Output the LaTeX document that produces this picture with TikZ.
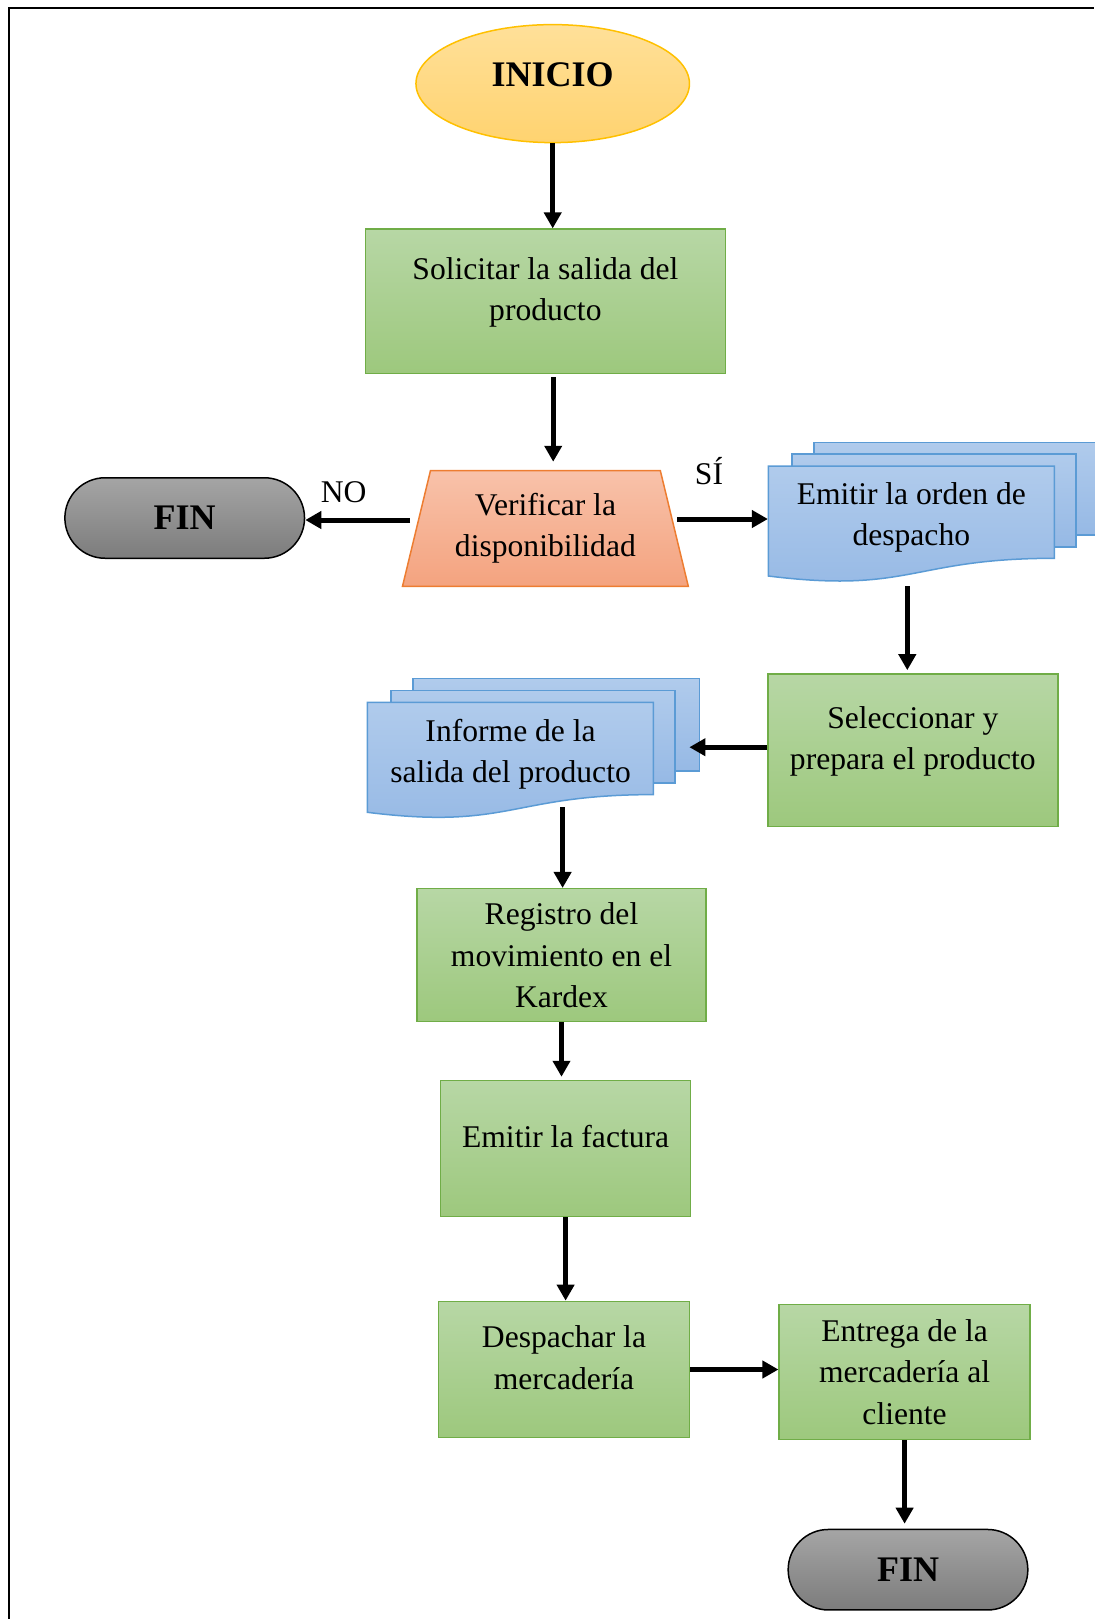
\documentclass[tikz,border=0pt]{standalone}
\usepackage{fontspec}
\setmainfont{Liberation Serif}
\usetikzlibrary{shapes.geometric,shapes.misc,arrows.meta}

\definecolor{yelT}{RGB}{255,224,153}
\definecolor{yelB}{RGB}{255,211,112}
\definecolor{yelL}{RGB}{255,192,0}
\definecolor{grnT}{RGB}{183,215,165}
\definecolor{grnB}{RGB}{157,200,125}
\definecolor{grnL}{RGB}{112,173,71}
\definecolor{salT}{RGB}{248,194,170}
\definecolor{salB}{RGB}{244,163,127}
\definecolor{salL}{RGB}{237,125,49}
\definecolor{bluT}{RGB}{176,203,236}
\definecolor{bluB}{RGB}{150,185,229}
\definecolor{bluL}{RGB}{91,155,213}
\definecolor{gryT}{RGB}{165,165,165}
\definecolor{gryB}{RGB}{124,124,124}

\newcommand{\pad}{\rule[-12pt]{0pt}{0pt}}

\begin{document}
\begin{tikzpicture}[x=0.5pt, y=-0.5pt,
    font=\fontsize{15.8}{20.6}\selectfont,
    start/.style={ellipse, draw=yelL, line width=0.75pt, top color=yelT, bottom color=yelB, minimum width=136.75pt, minimum height=59pt, font=\fontsize{18}{20}\selectfont\bfseries},
    proc/.style={draw=grnL, line width=0.75pt, top color=grnT, bottom color=grnB, align=center, inner sep=2pt},
    check/.style={trapezium, trapezium left angle=76.4, trapezium right angle=76.4, trapezium stretches body=true, draw=salL, line width=0.75pt, top color=salT, bottom color=salB, align=center, minimum width=142.9pt, minimum height=57.8pt, inner xsep=2pt, inner ysep=11.4pt},
    term/.style={rounded rectangle, draw=black, line width=0.75pt, top color=gryT, bottom color=gryB, minimum width=126.5pt, minimum height=40.25pt, font=\fontsize{18}{20}\selectfont\bfseries},
    sheet/.style={draw=bluL, line width=0.75pt, top color=bluT, bottom color=bluB},
    doctext/.style={align=center, inner sep=2pt, minimum width=143pt},
    arrw/.style={line width=2.5pt, -{Triangle[length=8pt,width=8.5pt]}}]

    \useasboundingbox (0,0) rectangle (1094,1619);
    \draw[line width=1pt] (9,1619) -- (9,8) -- (1094,8);

    % documento: orden de despacho
    \begin{scope}[shift={(768.3,466)}]
        \path[sheet] (45.7,-23.6) rectangle (332.2,68.9);
        \path[sheet] (23.6,-12) rectangle (307.6,80.9);
        \path[sheet] (0,0) -- (286,0) -- (286,92.3) .. controls (143,92.3) and (143,127.8) .. (0,110) -- cycle;
    \end{scope}

    % documento: informe
    \begin{scope}[shift={(367.3,702.3)}]
        \path[sheet] (45.7,-23.6) rectangle (332.2,68.9);
        \path[sheet] (23.6,-12) rectangle (307.6,80.9);
        \path[sheet] (0,0) -- (286,0) -- (286,92.3) .. controls (143,92.3) and (143,127.8) .. (0,110) -- cycle;
    \end{scope}

    \node[start] (inicio) at (552.7,83.6) {INICIO\rule[-9pt]{0pt}{0pt}};
    \node[proc, minimum width=180.1pt, minimum height=72.25pt] (solic) at (545.4,301.4) {Solicitar la salida del\\producto\pad};
    \node[check] (verif) at (545.4,528.4) {Verificar la\\disponibilidad};
    \node[term] (finL) at (184.7,518) {FIN};
    \node[doctext, minimum height=60pt] (emite) at (911.3,526) {Emitir la orden de\\despacho\pad};
    \node[proc, minimum width=145pt, minimum height=76.35pt] (selec) at (912.8,750.3) {Seleccionar y\\prepara el producto\pad};
    \node[doctext, minimum height=52.35pt] (informe) at (510.6,754.6) {Informe de la\\salida del producto};
    \node[proc, minimum width=144.5pt, minimum height=66.5pt] (regis) at (561.5,955.2) {Registro del\\movimiento en el\\Kardex};
    \node[proc, minimum width=124.9pt, minimum height=68.1pt] (factura) at (565.6,1148.6) {Emitir la factura\pad};
    \node[proc, minimum width=125.4pt, minimum height=68.1pt] (despa) at (564,1369.5) {Despachar la\\mercadería\pad};
    \node[proc, minimum width=125.4pt, minimum height=67.6pt] (entrega) at (904.6,1372.1) {Entrega de la\\mercadería al\\cliente};
    \node[term] (finB) at (908,1569.7) {FIN};

    \node (no) at (343.7,492.3) {NO};
    \node (si) at (709,470.6) {SÍ};

    \coordinate (s1) at ([xshift=3.9pt]solic.south);
    \coordinate (v1) at ([yshift=4.2pt]verif.west);
    \coordinate (v2) at ([yshift=4.7pt]verif.east);
    \coordinate (e1) at ([xshift=-2pt]emite.south);
    \coordinate (infR) at ([xshift=17.7pt,yshift=3.7pt]informe.east);
    \coordinate (infB) at ([xshift=26pt]informe.south);

    \draw[arrw] (inicio.south) -- (inicio.south |- solic.north);
    \draw[arrw, shorten <=1.5pt, shorten >=4pt] (s1) -- (s1 |- verif.north);
    \draw[arrw, shorten <=2.8pt] (v1) -- (v1 -| finL.east);
    \draw[arrw, shorten <=1pt] (v2) -- (v2 -| emite.west);
    \draw[arrw, shorten >=1.5pt] (e1) -- (e1 |- selec.north);
    \draw[arrw] (selec.west |- infR) -- (infR);
    \draw[arrw] (infB) -- (infB |- regis.north);
    \draw[arrw, shorten >=1.5pt] (regis.south) -- (regis.south |- factura.north);
    \draw[arrw] (factura.south) -- (factura.south |- despa.north);
    \draw[arrw] (despa.east) -- (despa.east -| entrega.west);
    \draw[arrw, shorten >=2.5pt] (entrega.south) -- (entrega.south |- finB.north);

\end{tikzpicture}
\end{document}
